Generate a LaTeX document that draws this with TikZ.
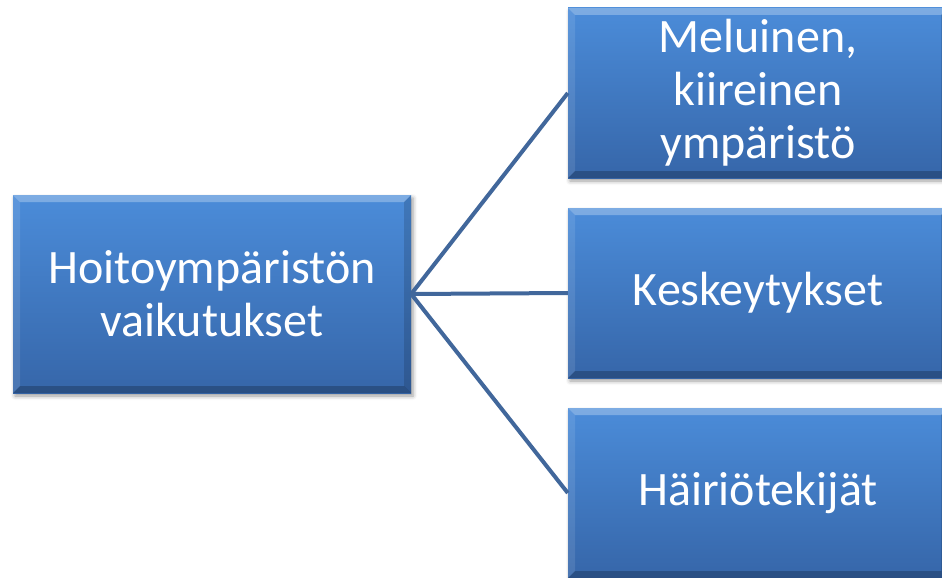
\documentclass[tikz,border=0pt]{standalone}
\usepackage{fontspec}
\setmainfont{Carlito}
\usetikzlibrary{shadows.blur}

\definecolor{boxtop}{HTML}{4B8CD9}
\definecolor{boxbot}{HTML}{3666A9}
\definecolor{linkblue}{HTML}{41679B}

\tikzset{
  bevel/.style={
    path picture={
      \coordinate (nw) at (path picture bounding box.north west);
      \coordinate (ne) at (path picture bounding box.north east);
      \coordinate (sw) at (path picture bounding box.south west);
      \coordinate (se) at (path picture bounding box.south east);
      % top facet
      \fill[white, opacity=0.28] (nw) -- (ne) -- ([xshift=-7pt,yshift=-7pt]ne) -- ([xshift=7pt,yshift=-7pt]nw) -- cycle;
      % left facet
      \fill[white, opacity=0.10] (nw) -- ([xshift=7pt,yshift=-7pt]nw) -- ([xshift=7pt,yshift=7pt]sw) -- (sw) -- cycle;
      % right facet
      \fill[black, opacity=0.14] (ne) -- ([xshift=-7pt,yshift=-7pt]ne) -- ([xshift=-7pt,yshift=7pt]se) -- (se) -- cycle;
      % bottom facet
      \fill[black, opacity=0.22] (sw) -- ([xshift=7pt,yshift=7pt]sw) -- ([xshift=-7pt,yshift=7pt]se) -- (se) -- cycle;
    }
  },
  topicbox/.style={
    rectangle, inner sep=0pt,
    top color=boxtop, bottom color=boxbot,
    blur shadow={shadow xshift=2pt, shadow yshift=-3pt, shadow blur radius=4pt, shadow opacity=40},
    bevel,
    text=white, align=center,
    font=\fontsize{48}{53}\selectfont
  },
  link/.style={draw=linkblue, line width=4pt}
}

\begin{document}
\begin{tikzpicture}[x=1pt, y=-1pt]
  \useasboundingbox (0,0) rectangle (942,578);

  \node[topicbox, minimum width=398pt, minimum height=198pt] (main) at (212,294)
    {Hoitoympäristön\\vaikutukset};

  \node[topicbox, minimum width=380pt, minimum height=170pt] (noise) at (758,93)
    {Meluinen,\\kiireinen\\ympäristö};
  \node[topicbox, minimum width=380pt, minimum height=170pt] (breaks) at (758,293)
    {Keskeytykset};
  \node[topicbox, minimum width=380pt, minimum height=170pt] (disturb) at (758,493)
    {Häiriötekijät};

  % links from the main topic to its three effects
  \draw[link] (main.east) -- (noise.west);
  \draw[link] (main.east) -- (breaks.west);
  \draw[link] (main.east) -- (disturb.west);
\end{tikzpicture}
\end{document}
